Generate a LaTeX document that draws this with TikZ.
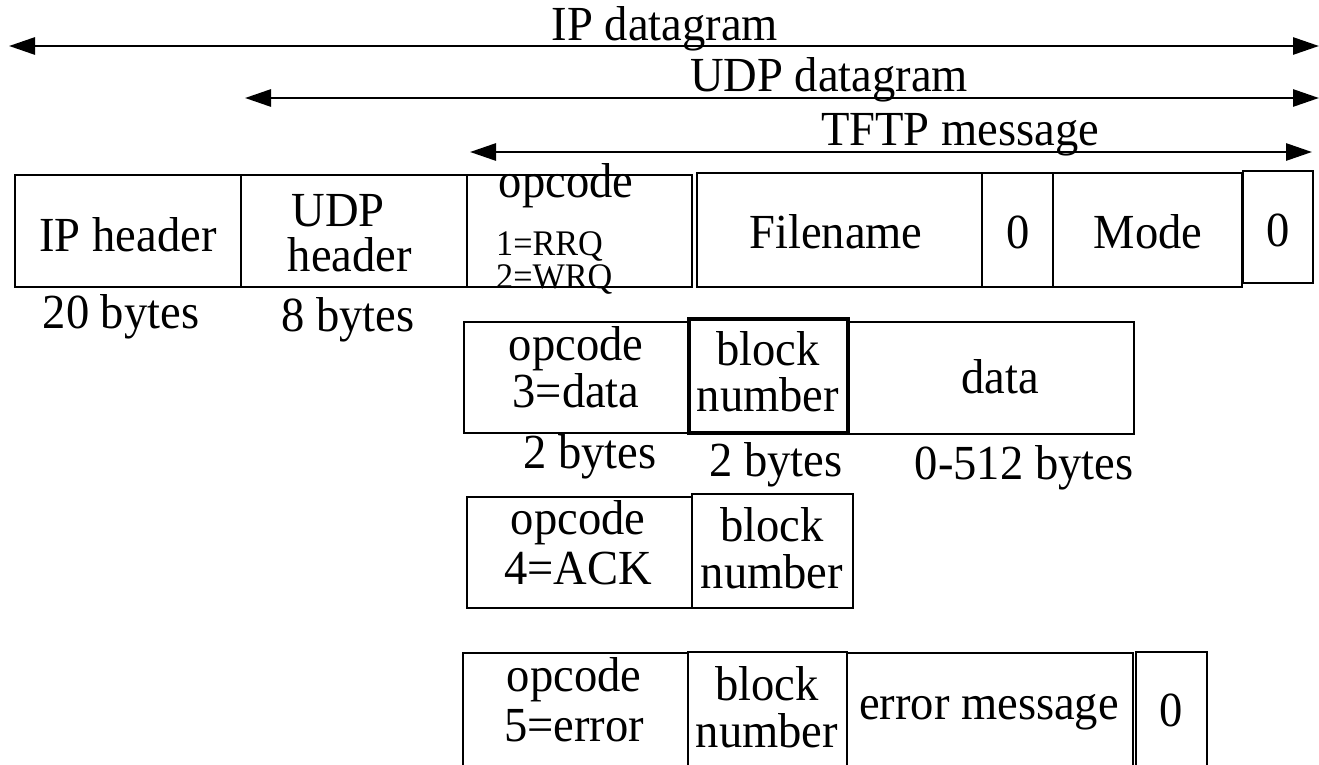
\documentclass[tikz,border=0pt]{standalone}
\usepackage{fontspec}
\setmainfont[FakeStretch=0.95]{Liberation Serif}
\usetikzlibrary{arrows.meta}
\tikzset{
  box/.style={draw=black, line width=2.5pt, inner sep=0pt, outer sep=0pt},
  thickbox/.style={box, line width=3.2pt},
  txt/.style={inner sep=0pt, anchor=base, font=\fontsize{49}{52}\selectfont},
  small/.style={inner sep=0pt, anchor=base west, font=\fontsize{36}{40}\selectfont},
  span/.style={line width=2.8pt, {Triangle[length=26pt,width=17pt]}-{Triangle[length=26pt,width=17pt]}},
}
\newcommand\mybox[6][box]{\node[#1, anchor=north west, minimum width={(#5)-(#3)}, minimum height={(#6)-(#4)}] (#2) at (#3,#4) {};}
\begin{document}
\begin{tikzpicture}[x=1pt,y=-1pt]
\useasboundingbox (0,0) rectangle (1319,765);
\clip (0,0) rectangle (1319,765);
% spans
\coordinate (ipL) at (9,46);   \coordinate (ipR) at (1319,46);
\coordinate (udpL) at (245,98); \coordinate (udpR) at (1319,98);
\coordinate (tfL) at (470,152); \coordinate (tfR) at (1312,152);
\draw[span] (ipL) -- (ipR);
\draw[span] (udpL) -- (udpR);
\draw[span] (tfL) -- (tfR);
\node[txt] (ipT) at (665,41) {IP datagram};
\node[txt] (udpT) at (829,92) {UDP datagram};
\node[txt] (tfT) at (960,146) {TFTP message};
% row 1
\mybox{iph}{15}{175}{241}{287}
\mybox{udph}{241}{175}{467}{287}
\mybox{op1}{467}{175}{692}{287}
\mybox{fn}{697}{173}{982}{287}
\mybox{z1}{982}{173}{1053}{287}
\mybox{mode}{1053}{173}{1242}{287}
\mybox{z2}{1243}{171}{1313}{283}
\node[txt] (iphT) at (128,251) {IP header};
\node[txt] (udpa) at (338,226) {UDP};
\node[txt] (udpb) at (350,271) {header};
\node[txt] (op1a) at (566,197) {opcode};
\node[small] (op1b) at (496,255) {1=RRQ};
\node[small] (op1c) at (496,288) {2=WRQ};
\node[txt] (fnT) at (836,248) {Filename};
\node[txt] (z1T) at (1018,248) {0};
\node[txt] (modeT) at (1148,248) {Mode};
\node[txt] (z2T) at (1278,246) {0};
\node[txt] (b20) at (121,328) {20 bytes};
\node[txt] (b8) at (348,331) {8 bytes};
% row 2
\mybox{op3}{464}{322}{689}{433}
\mybox[thickbox]{bn3}{689}{319}{848}{433}
\mybox{dat}{848}{322}{1134}{434}
\node[txt] (op3a) at (576,360) {opcode};
\node[txt] (op3b) at (576,407) {3=data};
\node[txt] (bn3a) at (768,365) {block};
\node[txt] (bn3b) at (768,411) {number};
\node[txt] (datT) at (1000,393) {data};
\node[txt] (b2a) at (590,468) {2 bytes};
\node[txt] (b2b) at (776,476) {2 bytes};
\node[txt] (b512) at (1024,479) {0-512 bytes};
% row 3
\mybox{op4}{467}{497}{692}{608}
\mybox{bn4}{692}{494}{853}{608}
\node[txt] (op4a) at (578,534) {opcode};
\node[txt] (op4b) at (578,584) {4=ACK};
\node[txt] (bn4a) at (772,541) {block};
\node[txt] (bn4b) at (772,588) {number};
% row 4
\mybox{op5}{463}{653}{688}{800}
\mybox{bn5}{688}{652}{847}{800}
\mybox{err}{847}{653}{1133}{800}
\mybox{z5}{1136}{652}{1207}{800}
\node[txt] (op5a) at (574,691) {opcode};
\node[txt] (op5b) at (574,741) {5=error};
\node[txt] (bn5a) at (767,700) {block};
\node[txt] (bn5b) at (767,747) {number};
\node[txt] (errT) at (989,719) {error message};
\node[txt] (z5T) at (1171,726) {0};
\end{tikzpicture}
\end{document}
